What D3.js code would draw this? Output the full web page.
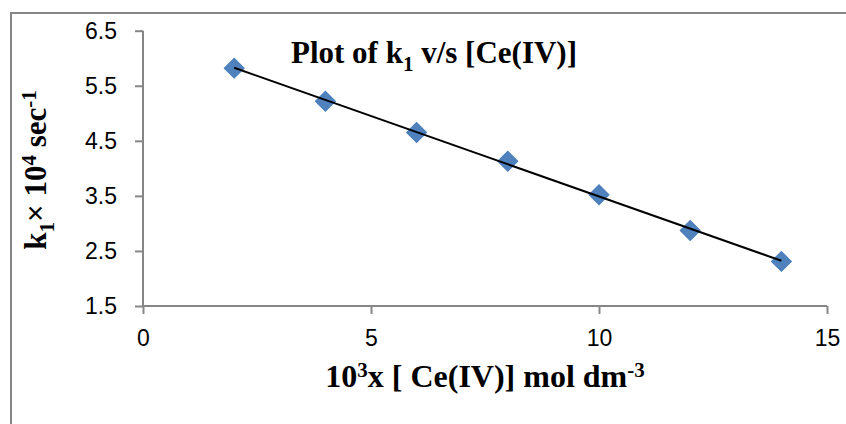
<!DOCTYPE html>
<html>
<head>
<meta charset="utf-8">
<script src="https://cdn.jsdelivr.net/npm/d3@7"></script>
<style>
  html, body { margin: 0; padding: 0; background: #fff; }
  svg { display: block; }
</style>
</head>
<body>
<div id="chart"></div>
<script>
// ---- data ----
const concentrations = [2, 4, 6, 8, 10, 12, 14];           // 10^3 x [Ce(IV)] mol dm^-3
const k1Values = [5.82, 5.22, 4.65, 4.13, 3.52, 2.87, 2.31]; // k1 x 10^4 sec^-1
const xTicks = [0, 5, 10, 15];
const yTicks = [1.5, 2.5, 3.5, 4.5, 5.5, 6.5];

const W = 846, H = 424;
const svg = d3.select("#chart").append("svg").attr("width", W).attr("height", H);

// chart border
svg.append("rect").attr("x", 11).attr("y", 13).attr("width", W).attr("height", H)
  .attr("fill", "#fff").attr("stroke", "#868686").attr("stroke-width", 2);

const x = d3.scaleLinear().domain([0, 15]).range([143, 827]);
const y = d3.scaleLinear().domain([1.5, 6.5]).range([306, 30.7]);

const axisColor = "#868686";
const tickFont = "'Liberation Sans', Arial, sans-serif";

// y axis
const yAxis = svg.append("g").attr("transform", `translate(${x(0)},0)`)
  .call(d3.axisLeft(y).tickValues(yTicks).tickSize(8).tickPadding(18).tickFormat(d3.format(".1f")));
// x axis
const xAxis = svg.append("g").attr("transform", `translate(0,${y(1.5)})`)
  .call(d3.axisBottom(x).tickValues(xTicks).tickSize(8).tickPadding(16).tickFormat(d3.format("d")));

[yAxis, xAxis].forEach(g => {
  g.select(".domain").attr("stroke", axisColor).attr("stroke-width", 2);
  g.selectAll(".tick line").attr("stroke", axisColor).attr("stroke-width", 2);
  g.selectAll(".tick text").attr("fill", "#000").style("font-family", tickFont).style("font-size", "23px");
});
yAxis.select(".domain").attr("d", `M0,${y(6.5)}V${y(1.5)}`);
xAxis.select(".domain").attr("d", `M${x(0)},0H${x(15)}`);

// trendline (least squares fit of the data)
const mx = d3.mean(concentrations), my = d3.mean(k1Values);
const slope = d3.sum(concentrations, (c, i) => (c - mx) * (k1Values[i] - my)) /
              d3.sum(concentrations, c => (c - mx) * (c - mx));
const intercept = my - slope * mx;
const xs = d3.extent(concentrations);

// markers (diamonds)
const diamond = d3.symbol().type(d3.symbolSquare).size(200);
svg.append("g").selectAll("path").data(concentrations).join("path")
  .attr("d", diamond)
  .attr("transform", (d, i) => `translate(${x(d)},${y(k1Values[i])}) rotate(45)`)
  .attr("fill", "#4F81BD").attr("stroke", "#4A7EBB").attr("stroke-width", 1);
// trendline on top of markers
svg.append("line")
  .attr("x1", x(xs[0])).attr("y1", y(intercept + slope * xs[0]))
  .attr("x2", x(xs[1])).attr("y2", y(intercept + slope * xs[1]))
  .attr("stroke", "#000").attr("stroke-width", 2);

const serif = "'Liberation Serif', 'Times New Roman', serif";

// title
const title = svg.append("text").attr("x", 434).attr("y", 63).attr("text-anchor", "middle")
  .style("font-family", serif).style("font-size", "31px").style("font-weight", "bold");
title.append("tspan").text("Plot of k");
title.append("tspan").attr("dy", 8).style("font-size", "21px").text("1");
title.append("tspan").attr("dy", -8).text(" v/s [Ce(IV)]");

// x label
const xl = svg.append("text").attr("x", 485).attr("y", 387).attr("text-anchor", "middle")
  .style("font-family", serif).style("font-size", "32px").style("font-weight", "bold");
xl.append("tspan").text("10");
xl.append("tspan").attr("dy", -10).style("font-size", "21px").text("3");
xl.append("tspan").attr("dy", 10).text("x [ Ce(IV)] mol dm");
xl.append("tspan").attr("dy", -10).style("font-size", "21px").text("-3");

// y label
const yl = svg.append("text").attr("transform", "translate(46,170) rotate(-90)").attr("text-anchor", "middle")
  .style("font-family", serif).style("font-size", "31px").style("font-weight", "bold");
yl.append("tspan").text("k");
yl.append("tspan").attr("dy", 8).style("font-size", "21px").text("1");
yl.append("tspan").attr("dy", -8).text("× 10");
yl.append("tspan").attr("dy", -10).style("font-size", "21px").text("4");
yl.append("tspan").attr("dy", 10).text(" sec");
yl.append("tspan").attr("dy", -10).style("font-size", "21px").text("-1");
</script>
</body>
</html>
